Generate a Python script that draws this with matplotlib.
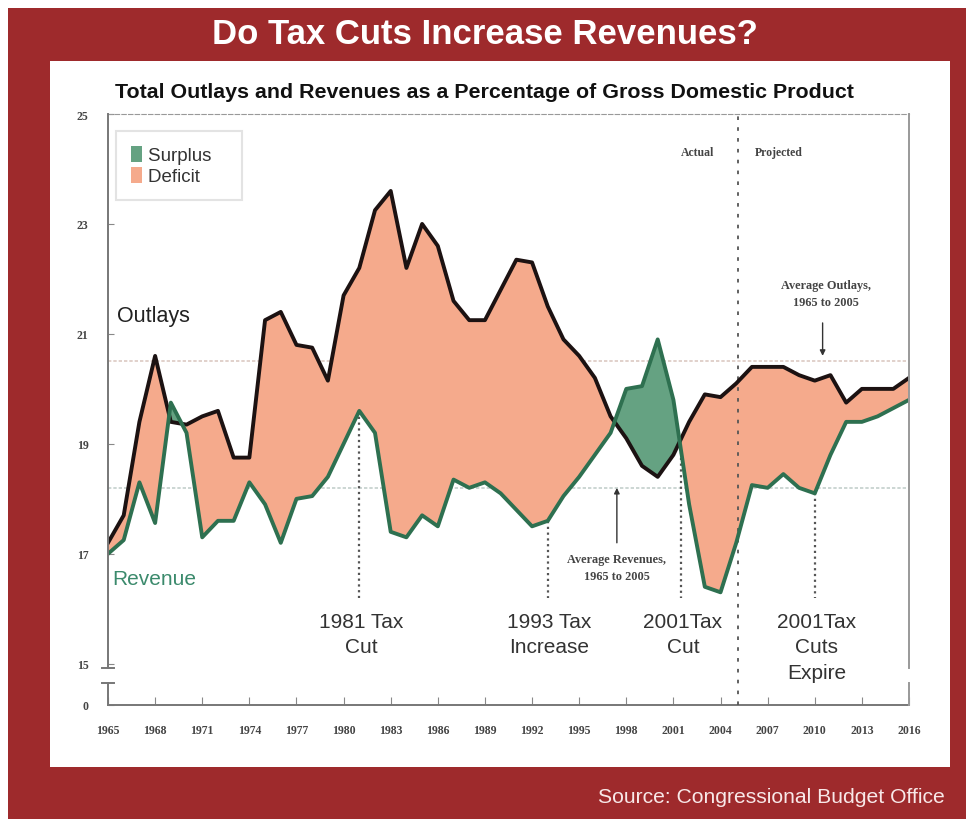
import numpy as np
import matplotlib.pyplot as plt
from matplotlib.patches import Rectangle, Patch

years = list(range(1965, 2017))
outlays = [17.2, 17.7, 19.4, 20.6, 19.4, 19.35, 19.5, 19.6, 18.75, 18.75,
           21.25, 21.4, 20.8, 20.75, 20.15, 21.7, 22.2, 23.25, 23.6, 22.2,
           23.0, 22.6, 21.6, 21.25, 21.25, 21.8, 22.35, 22.3, 21.5, 20.9,
           20.6, 20.2, 19.5, 19.1, 18.6, 18.4, 18.8, 19.4, 19.9, 19.85,
           20.1, 20.4, 20.4, 20.4, 20.25, 20.15, 20.25, 19.75, 20.0, 20.0,
           20.0, 20.2]
revenue = [17.0, 17.25, 18.3, 17.56, 19.75, 19.2, 17.3, 17.6, 17.6, 18.3,
           17.9, 17.2, 18.0, 18.05, 18.4, 19.0, 19.6, 19.2, 17.4, 17.3,
           17.7, 17.5, 18.35, 18.2, 18.3, 18.1, 17.8, 17.5, 17.6, 18.05,
           18.4, 18.8, 19.2, 20.0, 20.05, 20.9, 19.8, 17.9, 16.4, 16.3,
           17.2, 18.25, 18.2, 18.45, 18.2, 18.1, 18.8, 19.4, 19.4, 19.5,
           19.65, 19.8]
avg_outlays = 20.5
avg_revenue = 18.2
projection_start = 2005.1

event_years = [1981, 1993, 2001.5, 2010]
event_labels = ['1981 Tax\nCut', '1993 Tax\nIncrease', '2001Tax\nCut', '2001Tax\nCuts\nExpire']

xticks = list(range(1965, 2017, 3))
yticks = [15, 17, 19, 21, 23, 25]

RED = '#9e2a2c'
DEFICIT = '#f5aa8c'
SURPLUS = '#65a282'
OUT_LINE = '#1c1212'
REV_LINE = '#2e7050'
SANS = 'Liberation Sans'
SERIF = 'Liberation Serif'

fig = plt.figure(figsize=(9.66, 8.2), dpi=100)
fig.patch.set_facecolor('white')
W, H = 966, 820

def px(x, y, w, h):
    return (x / W, 1 - (y + h) / H, w / W, h / H)

# red frame and white panel behind everything
x0, y0, w0, h0 = px(8, 9, 958, 811)
fig.patches.append(Rectangle((x0, y0), w0, h0, transform=fig.transFigure,
                             facecolor=RED, edgecolor='none', zorder=-2))
x0, y0, w0, h0 = px(50, 62, 900, 706)
fig.patches.append(Rectangle((x0, y0), w0, h0, transform=fig.transFigure,
                             facecolor='white', edgecolor='none', zorder=-1))

fig.text(485 / W, 1 - 35 / H, 'Do Tax Cuts Increase Revenues?', color='white',
         fontsize=25, fontweight='bold', ha='center', va='center', family=SANS)
fig.text(115 / W, 1 - 93 / H,
         'Total Outlays and Revenues as a Percentage of Gross Domestic Product',
         color='#111111', fontsize=15.4, fontweight='bold', ha='left',
         va='center', family=SANS)
fig.text(945 / W, 1 - 798 / H, 'Source: Congressional Budget Office',
         color='#f8e8e8', fontsize=15.2, ha='right', va='center', family=SANS)

ax = fig.add_axes(px(108, 115, 801, 591))
ax.set_facecolor('none')
ax.set_xlim(1965, 2016)
ybot = 14.25
ax.set_ylim(ybot, 25.0)

yr = np.array(years, dtype=float)
out = np.array(outlays)
rev = np.array(revenue)

ax.fill_between(yr, rev, out, where=out >= rev, interpolate=True,
                color=DEFICIT, linewidth=0, zorder=2)
ax.fill_between(yr, rev, out, where=rev > out, interpolate=True,
                color=SURPLUS, linewidth=0, zorder=2)

# averages
ax.axhline(avg_outlays, color='#dcc9c2', lw=1.2, ls=(0, (2, 1.2)), zorder=1)
ax.axhline(avg_revenue, color='#c3d0cc', lw=1.2, ls=(0, (2, 1.2)), zorder=1)

ax.plot(yr, out, color=OUT_LINE, lw=2.8, zorder=4, solid_joinstyle='round')
ax.plot(yr, rev, color=REV_LINE, lw=2.8, zorder=4, solid_joinstyle='round')

# actual / projected divider
ax.axvline(projection_start, color='#555555', lw=1.3, ls=(0, (2, 4)), zorder=3)
ax.text(projection_start - 1.5, 24.31, 'Actual', fontsize=8.5, fontweight='bold',
        ha='right', va='center', color='#444444', family=SERIF)
ax.text(projection_start + 1.1, 24.31, 'Projected', fontsize=8.5,
        fontweight='bold', ha='left', va='center', color='#444444',
        family=SERIF)

# policy events
for ey, lab in zip(event_years, event_labels):
    top = np.interp(ey, yr, rev)
    ax.plot([ey, ey], [top, 16.2], color='#555555', lw=1.6, ls=(0, (1, 1.6)),
            zorder=3)
    ax.text(ey + 0.1, 15.95, lab, fontsize=15, ha='center', va='top',
            color='#333333', linespacing=1.45, family=SANS)

ax.annotate('', xy=(2010.5, avg_outlays + 0.05), xytext=(2010.5, 21.25),
            arrowprops=dict(arrowstyle='-|>', color='#333333', lw=1.0,
                            mutation_scale=8))
ax.text(2010.7, 21.73, 'Average Outlays,\n1965 to 2005', fontsize=8.8,
        fontweight='bold', ha='center', va='center', color='#444444',
        family=SERIF, linespacing=1.6)
ax.annotate('', xy=(1997.4, avg_revenue + 0.05), xytext=(1997.4, 17.15),
            arrowprops=dict(arrowstyle='-|>', color='#333333', lw=1.0,
                            mutation_scale=8))
ax.text(1997.4, 16.75, 'Average Revenues,\n1965 to 2005', fontsize=8.8,
        fontweight='bold', ha='center', va='center', color='#444444',
        family=SERIF, linespacing=1.6)

ax.text(1965.6, 21.33, 'Outlays', fontsize=15.5, color='#222222', va='center',
        family=SANS)
ax.text(1965.3, 16.56, 'Revenue', fontsize=15, color='#3b8a6c', va='center',
        family=SANS)

# legend
leg = ax.legend(handles=[Patch(facecolor=SURPLUS, label='Surplus   '),
                         Patch(facecolor=DEFICIT, label='Deficit   ')],
                loc='upper left', bbox_to_anchor=(0.01, 0.971), frameon=True,
                fancybox=False, edgecolor='#dddddd', borderaxespad=0,
                handlelength=0.6, handleheight=0.9, handletextpad=0.3,
                borderpad=0.8, labelspacing=0.15,
                prop={'family': SANS, 'size': 13.5})
leg.get_frame().set_linewidth(1.5)
for t in leg.get_texts():
    t.set_color('#333333')

# axes styling with a broken y axis
ax.set_xticks(xticks)
ax.set_xticklabels([str(y) for y in xticks], fontsize=8.5, fontweight='bold',
                   family=SERIF, color='#444444')
ax.set_yticks([ybot] + yticks)
ax.set_yticklabels(['0'] + [str(v) for v in yticks], fontsize=8.5,
                   fontweight='bold', family=SERIF, color='#444444')
ax.tick_params(axis='x', direction='in', length=6, color='#888888', pad=14)
ax.tick_params(axis='y', direction='in', length=4, color='#888888', pad=14)
for s in ['left', 'right']:
    ax.spines[s].set_visible(False)
ax.spines['bottom'].set_color('#777777')
ax.spines['bottom'].set_linewidth(1.4)
ax.spines['top'].set_color('#999999')
ax.spines['top'].set_linestyle((0, (4, 2)))

gap_lo, gap_hi = 14.65, 14.93
for xa, c in [(0, '#777777'), (1, '#999999')]:
    ax.plot([xa, xa], [gap_hi, 25.0], color=c, lw=1.4, clip_on=False,
            transform=ax.get_yaxis_transform(), zorder=5)
    ax.plot([xa, xa], [ybot, gap_lo], color=c, lw=1.4, clip_on=False,
            transform=ax.get_yaxis_transform(), zorder=5)
for yv in [gap_hi, gap_lo]:
    ax.plot([-0.008, 0.008], [yv, yv], color='#777777', lw=1.4, clip_on=False,
            transform=ax.get_yaxis_transform(), zorder=5)

fig.savefig('out.png', dpi=100)
